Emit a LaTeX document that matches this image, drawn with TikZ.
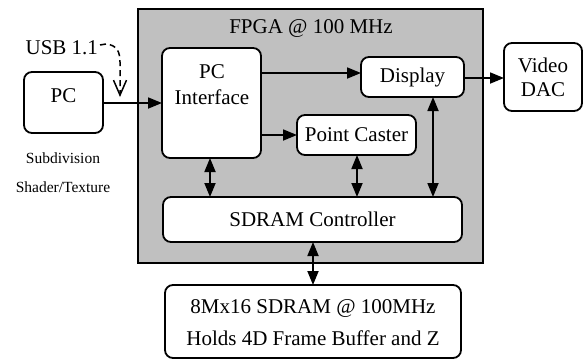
\documentclass[tikz,border=0pt]{standalone}
\usepackage{fontspec}
\setmainfont{Liberation Serif}
\newfontfamily\tms{Liberation Serif}
\usetikzlibrary{arrows.meta,calc}
\definecolor{fpgagray}{RGB}{192,192,192}
\begin{document}
\begin{tikzpicture}[x=1pt,y=-1pt,
  every node/.style={inner sep=0pt,outer sep=0pt},
  bigtxt/.style={font=\tms\fontsize{21}{26}\selectfont},
  smalltxt/.style={font=\tms\fontsize{15.5}{18}\selectfont},
  blk/.style={draw=black,line width=1.8pt,rounded corners=8pt,fill=white},
  arr/.style={line width=1.8pt,-{Triangle[length=14pt,width=11pt]}},
  darr/.style={line width=1.8pt,{Triangle[length=14pt,width=11pt]}-{Triangle[length=14pt,width=11pt]}}]
\useasboundingbox (0,0) rectangle (583,360);
% FPGA region
\node[draw=black,line width=1.5pt,fill=fpgagray,minimum width=345pt,minimum height=254pt] (fpga) at (310.5,136) {};
\node[bigtxt] (fpgat) at (311,28) {FPGA @ 100 MHz};
% blocks
\node[blk,minimum width=79pt,minimum height=61pt] (pc) at (63.5,102.5) {};
\node[bigtxt] (pct) at (63.5,96) {PC};
\node[blk,minimum width=99pt,minimum height=110pt] (iface) at (211.5,103) {};
\node[bigtxt,align=center] (ifacet) at (212,85) {PC\\Interface};
\node[blk,bigtxt,minimum width=103pt,minimum height=40pt] (disp) at (412.5,77) {Display};
\node[blk,bigtxt,minimum width=119pt,minimum height=40pt] (cast) at (356.5,135) {Point Caster};
\node[blk,bigtxt,minimum width=299pt,minimum height=45pt] (ctrl) at (312.5,219.5) {SDRAM Controller};
\node[blk,minimum width=296pt,minimum height=73pt] (sdram) at (313,321.5) {};
\node[bigtxt] (sdl1) at (313,308) {8Mx16 SDRAM @ 100MHz};
\node[bigtxt] (sdl2) at (313,338) {Holds 4D Frame Buffer and Z};
\node[blk,minimum width=78pt,minimum height=68pt] (dac) at (543,77) {};
\node[bigtxt] (dac1) at (543,65) {Video};
\node[bigtxt] (dac2) at (543,90) {DAC};
% side texts
\node[bigtxt,anchor=east] (usb) at (98,48) {USB 1.1};
\node[smalltxt] (sub) at (63,158) {Subdivision};
\node[smalltxt] (shd) at (63,187) {Shader/Texture};
% connectors
\draw[arr] (pc.east |- 0,103) -- (iface.west |- 0,103);
\draw[arr] (iface.east |- 0,73) -- (disp.west |- 0,73);
\draw[arr] (iface.east |- cast.west) -- (cast.west);
\draw[arr] (disp.east |- 0,78) -- (dac.west |- 0,78);
\draw[darr] (iface.south -| 210,0) -- (ctrl.north -| 210,0);
\draw[darr] (cast.south -| 357,0) -- (ctrl.north -| 357,0);
\draw[darr] (disp.south -| 433,0) -- (ctrl.north -| 433,0);
\draw[darr] (ctrl.south -| 313,0) -- (sdram.north -| 313,0);
\coordinate (usbend) at (120,97);
\draw[line width=1.5pt,dash pattern=on 6pt off 4pt,-{Straight Barb[length=15pt,width=13pt]}]
  ($(usb.east)+(2,-3)$) -- (106,44) .. controls (117,45) and (120,52) .. (120,62) -- (usbend);
\end{tikzpicture}
\end{document}
